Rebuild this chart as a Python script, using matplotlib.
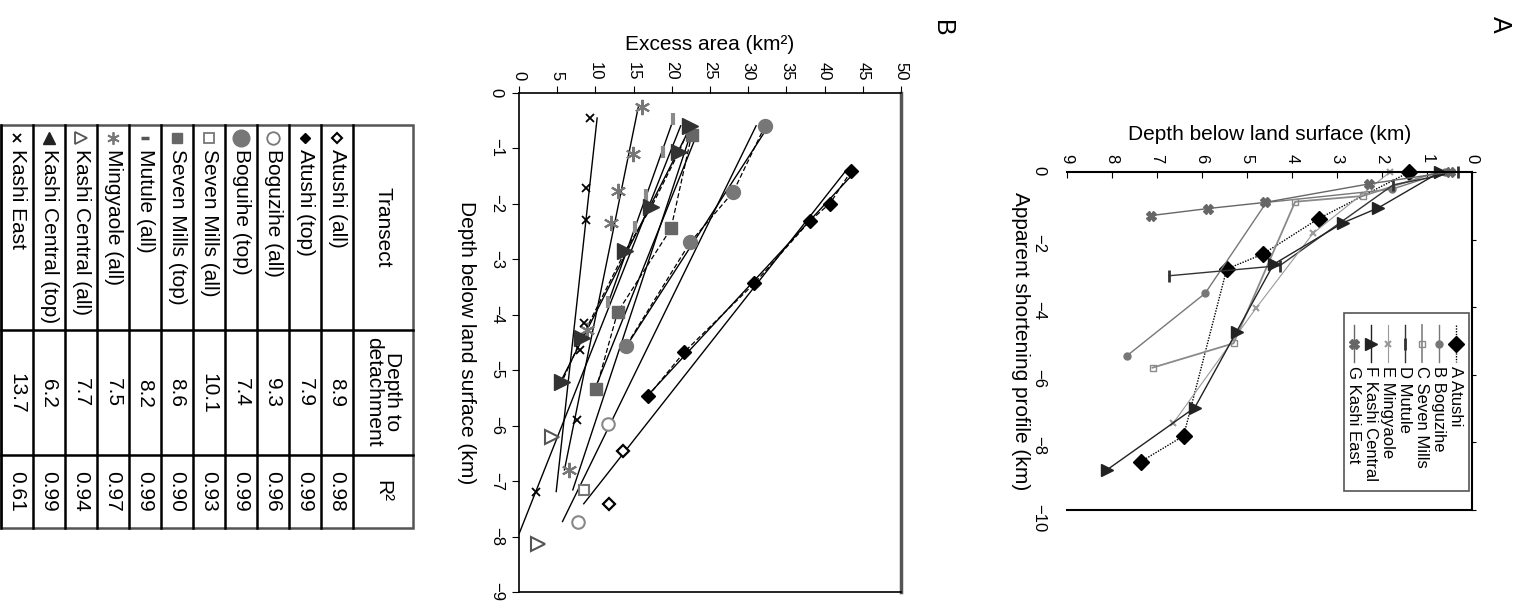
import matplotlib.pyplot as plt
import numpy as np
from matplotlib.patches import Rectangle

plt.rcParams['font.family'] = ['Liberation Sans', 'DejaVu Sans']

# ---------------- panel A : apparent shortening profiles ----------------
names_a = ["A Atushi", "B Boguzihe", "C Seven Mills", "D Mutule",
           "E Mingyaole", "F Kashi Central", "G Kashi East"]
depth_a = [
    [1.39, 3.41, 4.65, 5.45, 6.41, 7.36],
    [0.6, 1.78, 4.57, 5.93, 7.67],
    [0.76, 2.43, 3.93, 5.3, 7.1],
    [0.31, 1.75, 4.27, 6.73],
    [1.82, 3.53, 4.8, 6.64],
    [0.71, 2.08, 2.86, 4.41, 5.23, 6.16, 8.12],
    [0.49, 2.28, 4.6, 5.86, 7.14],
]
short_a = [
    [0, -1.38, -2.43, -2.87, -7.81, -8.57],
    [0, -0.51, -0.9, -3.59, -5.44],
    [0, -0.71, -0.88, -5.07, -5.79],
    [0, -0.38, -2.77, -3.07],
    [0, -1.81, -4.03, -7.43],
    [0, -1.06, -1.5, -2.73, -4.72, -6.97, -8.82],
    [0, -0.35, -0.9, -1.08, -1.29],
]

# ---------------- panel B : excess area vs depth ----------------
transects = ["Atushi", "Boguzihe", "Seven Mills", "Mutule",
             "Mingyaole", "Kashi Central", "Kashi East"]
area_top = [
    [43.5, 40.7, 38.1, 30.8, 21.6, 16.9],
    [32.2, 28.05, 22.4, 14.0],
    [22.6, 19.9, 12.9, 10.1],
    [20.1, 18.9, 16.6, 15.2, 11.7],
    [16.05, 14.9, 13.0, 12.1, 8.86, 6.6],
    [22.4, 20.9, 17.3, 13.9, 8.2, 5.6],
    [9.3, 8.77, 8.77, 8.5, 8.0, 7.64, 2.2],
]
depth_top = [
    [-1.41, -2.0, -2.31, -3.44, -4.68, -5.47],
    [-0.6, -1.79, -2.7, -4.57],
    [-0.76, -2.45, -3.96, -5.34],
    [-0.48, -1.07, -1.85, -2.43, -3.78],
    [-0.26, -1.11, -1.77, -2.35, -4.28, -6.8],
    [-0.6, -1.08, -2.07, -2.86, -4.42, -5.22],
    [-0.46, -1.72, -2.29, -4.15, -4.64, -5.9, -7.19],
]
area_deep = [[13.65, 11.78], [11.6, 7.7], [8.5], [], [], [4.3, 2.5], []]
depth_deep = [[-6.46, -7.41], [-5.98, -7.73], [-7.16], [], [], [-6.2, -8.14], []]

# table rows
row_labels = ["Atushi (all)", "Atushi (top)", "Boguzihe (all)", "Boguihe (top)",
              "Seven Mills (all)", "Seven Mills (top)", "Mutule (all)",
              "Mingyaole (all)", "Kashi Central (all)", "Kashi Central (top)",
              "Kashi East"]
row_detach = [8.9, 7.9, 9.3, 7.4, 10.1, 8.6, 8.2, 7.5, 7.7, 6.2, 13.7]
row_r2 = [0.98, 0.99, 0.96, 0.99, 0.93, 0.90, 0.99, 0.97, 0.94, 0.99, 0.61]
row_fit = [(0, True), (0, False), (1, True), (1, False), (2, True), (2, False),
           (3, False), (4, False), (5, True), (5, False), (6, False)]

# styles
style_a = [
    dict(color='black', ls=(0, (1, 1)), lw=1, marker='D', ms=8),
    dict(color='#777777', ls='-', lw=1, marker='o', ms=5),
    dict(color='#8a8a8a', ls='-', lw=1.3, marker='s', ms=4, mfc='none', mew=1),
    dict(color='#333333', ls='-', lw=1, marker='|', ms=8, mew=2),
    dict(color='#9a9a9a', ls='-', lw=0.8, marker='x', ms=4, mew=1.5),
    dict(color='#222222', ls='-', lw=1, marker='>', ms=9),
    dict(color='#666666', ls='-', lw=1, marker='X', ms=7),
]
mk_top = [
    dict(marker='D', ms=7, color='black'),
    dict(marker='o', ms=10, color='#777777'),
    dict(marker='s', ms=8, color='#666666'),
    dict(marker='|', ms=9, mew=3, color='#8a8a8a'),
    dict(marker=(6, 2, 0), ms=11, mew=1.5, color='#777777'),
    dict(marker='>', ms=12, color='#333333'),
    dict(marker='x', ms=6, mew=1.3, color='black'),
]
mk_deep = [
    dict(marker='D', ms=6, mfc='white', mec='black', mew=1.6),
    dict(marker='o', ms=9, mfc='white', mec='#888888', mew=1.5),
    dict(marker='s', ms=7, mfc='white', mec='#777777', mew=1.5),
    None, None,
    dict(marker='>', ms=10, mfc='white', mec='#555555', mew=1.5),
    None,
]
mk_table = [
    dict(marker='D', ms=5, mfc='white', mec='black', mew=1.5),
    dict(marker='D', ms=5, color='black'),
    dict(marker='o', ms=9, mfc='white', mec='#777777', mew=1.3),
    dict(marker='o', ms=12, color='#777777'),
    dict(marker='s', ms=7, mfc='white', mec='#777777', mew=1.3),
    dict(marker='s', ms=7, color='#666666'),
    dict(marker='_', ms=6, mew=2.5, color='#555555'),
    dict(marker=(6, 2, 0), ms=9, mew=1.3, color='#777777'),
    dict(marker='>', ms=8, mfc='white', mec='#555555', mew=1.3),
    dict(marker='^', ms=8, color='#222222'),
    dict(marker='x', ms=6, mew=1.3, color='black'),
]

W, H = 1517, 605
fig = plt.figure(figsize=(W / 100, H / 100), dpi=100)

# ======== panel A ========
axa = fig.add_axes([1067 / W, 1 - 510 / H, 405 / W, 338 / H])
for i in range(len(names_a)):
    axa.plot(depth_a[i], short_a[i], clip_on=False, **style_a[i])
axa.set_xlim(9, 0)
axa.set_ylim(-10, 0)
axa.xaxis.tick_top()
axa.xaxis.set_label_position('top')
axa.set_xticks(range(0, 10))
axa.set_yticks(range(-10, 1, 2))
axa.yaxis.set_ticks_position('right')
axa.tick_params(axis='y', labelleft=True, labelright=False, direction='out',
                length=3, pad=12, labelsize=12, labelrotation=-90)
axa.tick_params(axis='x', direction='in', length=4, pad=6, labelsize=12,
                labelrotation=-90)
axa.set_xlabel("Depth below land surface (km)", fontsize=15, labelpad=10)
axa.set_ylabel("Apparent shortening profile (km)", fontsize=15, rotation=-90,
               labelpad=8, va='center')
axa.spines['left'].set_visible(False)
for s in ['top', 'right', 'bottom']:
    axa.spines[s].set_linewidth(1.5)

# legend (drawn rotated, by hand)
axa.add_patch(Rectangle((0.684, 0.056), 0.309, 0.527, transform=axa.transAxes,
                        facecolor='white', edgecolor='#555555', lw=1.2, zorder=5))
for i in range(len(names_a)):
    lx = 0.960 - 0.042 * i
    st = style_a[i]
    axa.plot([lx, lx], [0.547, 0.438], transform=axa.transAxes, color=st['color'],
             ls=st['ls'], lw=st['lw'], zorder=6, clip_on=False)
    mk = {k: v for k, v in st.items() if k not in ('ls', 'lw')}
    axa.plot([lx], [0.491], transform=axa.transAxes, ls='none', zorder=7,
             clip_on=False, **mk)
    axa.text(lx, 0.425, names_a[i], transform=axa.transAxes, rotation=-90,
             rotation_mode='anchor', ha='left', va='center', fontsize=12, zorder=7)

# ======== panel B ========
axb = fig.add_axes([519 / W, 1 - 592 / H, 382 / W, 499.5 / H])
for r, (j, use_deep) in enumerate(row_fit):
    d = list(depth_top[j]) + (list(depth_deep[j]) if use_deep else [])
    a = list(area_top[j]) + (list(area_deep[j]) if use_deep else [])
    coef = np.polyfit(d, a, 1)
    dd = np.array([min(d), max(d)])
    axb.plot(np.polyval(coef, dd), dd, color='black', lw=1, zorder=2)
for j in range(len(transects)):
    if area_deep[j]:
        axb.plot(area_top[j], depth_top[j], color='black', lw=0.9,
                 ls=(0, (4, 2)), zorder=2)
    axb.plot(area_top[j], depth_top[j], ls='none', zorder=3, **mk_top[j])
    if area_deep[j]:
        axb.plot(area_deep[j], depth_deep[j], ls='none', zorder=3, **mk_deep[j])
axb.set_xlim(0, 50)
axb.set_ylim(-9, 0)
axb.set_xticks(range(0, 51, 5))
axb.set_yticks(range(-9, 1))
axb.xaxis.tick_top()
axb.xaxis.set_label_position('top')
axb.tick_params(direction='out', length=5, labelsize=12, labelrotation=-90)
axb.tick_params(axis='x', pad=4)
axb.tick_params(axis='y', pad=6)
for lab in axb.get_yticklabels():
    lab.set_verticalalignment('center')
axb.set_xlabel("Excess area (km²)", fontsize=15, labelpad=8)
axb.set_ylabel("Depth below land surface (km)", fontsize=15, rotation=-90,
               labelpad=16, va='center')
for s in ['top', 'left', 'bottom']:
    axb.spines[s].set_linewidth(1.2)
axb.spines['right'].set_linewidth(2.5)
axb.spines['right'].set_color('#555555')

# ======== table ========
axt = fig.add_axes([0, 1 - 528 / H, 414 / W, 403 / H])
axt.set_xlim(0, 414)
axt.set_ylim(528, 125)
axt.axis('off')
n = len(row_labels)
rw = 32
x_head = 353
for k in range(n + 1):
    xb = x_head - rw * k
    axt.plot([xb, xb], [125, 528], color='black', lw=1.8, clip_on=False)
for yb in [330, 455]:
    axt.plot([1, 413], [yb, yb], color='black', lw=1.8, clip_on=False)
axt.add_patch(Rectangle((1, 125), 412, 403, fill=False, edgecolor='#555555',
                        lw=1.8, clip_on=False))
axt.text(383, 227, "Transect", rotation=-90, ha='center', va='center', fontsize=15)
axt.text(383, 392, "Depth to\ndetachment", rotation=-90, ha='center', va='center',
         fontsize=15, multialignment='center', linespacing=1.0)
axt.text(383, 491, "R²", rotation=-90, ha='center', va='center', fontsize=15)
for k in range(n):
    cx = x_head - rw * k - rw / 2
    axt.plot([cx], [138], ls='none', clip_on=False, **mk_table[k])
    axt.text(cx, 149, row_labels[k], rotation=-90, rotation_mode='anchor',
             ha='left', va='center', fontsize=15)
    axt.text(cx, 393, "%.1f" % row_detach[k], rotation=-90, ha='center',
             va='center', fontsize=15)
    axt.text(cx, 491, "%.2f" % row_r2[k], rotation=-90, ha='center',
             va='center', fontsize=15)

# panel letters
fig.text(1500 / W, 1 - 24 / H, "A", rotation=-90, ha='center', va='center', fontsize=18)
fig.text(942 / W, 1 - 28 / H, "B", rotation=-90, ha='center', va='center', fontsize=18)

fig.savefig("out.png", dpi=100)
